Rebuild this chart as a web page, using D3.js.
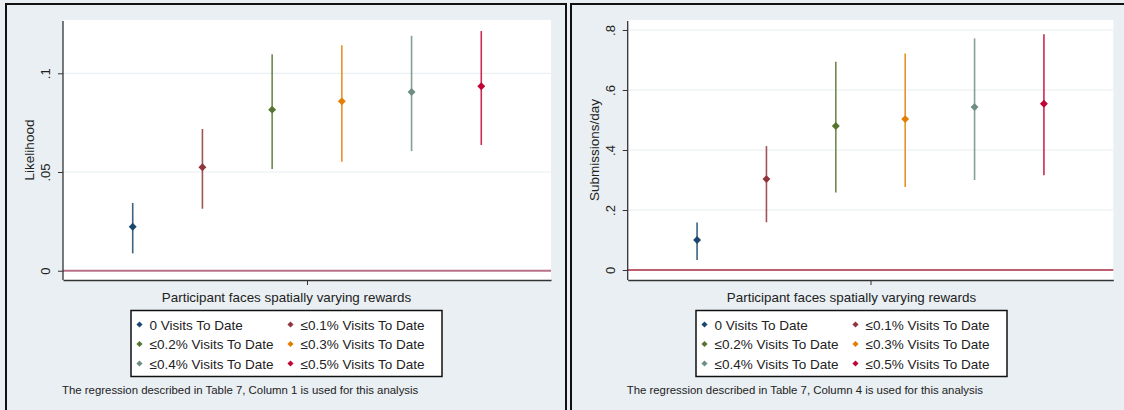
<!DOCTYPE html>
<html><head><meta charset="utf-8">
<script src="https://cdn.jsdelivr.net/npm/d3@7"></script>
<style>
html,body{margin:0;padding:0;background:#fff;}
svg{display:block;font-family:"Liberation Sans",Arial,sans-serif;}
</style></head>
<body>
<svg id="chart" width="1124" height="410"></svg>
<script>
// ---- data ----
const categories = ["0 Visits To Date", "≤0.1% Visits To Date", "≤0.2% Visits To Date",
                    "≤0.3% Visits To Date", "≤0.4% Visits To Date", "≤0.5% Visits To Date"];
const seriesColors = ["#1a476f", "#90353b", "#55752f", "#e37e00", "#6e8e84", "#c10534"];

const likelihoodEst = [0.0223, 0.0524, 0.0816, 0.0858, 0.0905, 0.0934];
const likelihoodLo  = [0.0088, 0.0314, 0.0515, 0.0552, 0.0606, 0.0637];
const likelihoodHi  = [0.0343, 0.0718, 0.1096, 0.1142, 0.1190, 0.1214];
const likelihoodTicks = [0, 0.05, 0.1];
const likelihoodTickLabels = ["0", ".05", ".1"];

const submissionsEst = [0.100, 0.303, 0.480, 0.503, 0.543, 0.554];
const submissionsLo  = [0.033, 0.159, 0.258, 0.277, 0.300, 0.316];
const submissionsHi  = [0.158, 0.413, 0.694, 0.722, 0.772, 0.786];
const submissionsTicks = [0, 0.2, 0.4, 0.6, 0.8];
const submissionsTickLabels = ["0", ".2", ".4", ".6", ".8"];

const xTitle = "Participant faces spatially varying rewards";

const panels = [
  {yTitle: "Likelihood", est: likelihoodEst, lo: likelihoodLo, hi: likelihoodHi,
   ticks: likelihoodTicks, tickLabels: likelihoodTickLabels, yDomain: [-0.0047, 0.127],
   note: "The regression described in Table 7, Column 1 is used for this analysis",
   box: [6, 4, 560, 420], plot: [63, 20, 551, 280], zeroColor: "#b8708a", zeroW: 2},
  {yTitle: "Submissions/day", est: submissionsEst, lo: submissionsLo, hi: submissionsHi,
   ticks: submissionsTicks, tickLabels: submissionsTickLabels, yDomain: [-0.0333, 0.8333],
   note: "The regression described in Table 7, Column 4 is used for this analysis",
   box: [571, 4, 560, 420], plot: [627.7, 20, 1113.3, 280], zeroColor: "#a8283f", zeroW: 1.3}
];

const svg = d3.select("#chart");
svg.append("rect").attr("width", 1124).attr("height", 410).attr("fill", "#e9eff2");

panels.forEach(p => {
  const [bx, by, bw, bh] = p.box;
  const [x0, y0, x1, y1] = p.plot;
  const g = svg.append("g");
  g.append("rect").attr("x", bx).attr("y", by).attr("width", bw).attr("height", bh)
    .attr("fill", "#e9eff2").attr("stroke", "#111").attr("stroke-width", 2);
  g.append("rect").attr("x", x0).attr("y", y0).attr("width", x1 - x0).attr("height", y1 - y0)
    .attr("fill", "#fff");

  const x = d3.scaleLinear().domain([0, categories.length + 1]).range([x0, x1]);
  const y = d3.scaleLinear().domain(p.yDomain).range([y1, y0]);

  // gridlines
  g.selectAll(".grid").data(p.ticks.filter(t => t !== 0)).join("line")
    .attr("x1", x0).attr("x2", x1).attr("y1", d => y(d)).attr("y2", d => y(d))
    .attr("stroke", "#eaeff2").attr("stroke-width", 1.2);

  // zero line
  g.append("line").attr("x1", x0).attr("x2", x1).attr("y1", y(0)).attr("y2", y(0))
    .attr("stroke", p.zeroColor).attr("stroke-width", p.zeroW);

  // y axis
  const yAxis = d3.axisLeft(y).tickValues(p.ticks).tickFormat((d, i) => p.tickLabels[i])
    .tickSize(5).tickSizeOuter(0);
  const ya = g.append("g").attr("transform", `translate(${x0},0)`).call(yAxis);
  ya.select(".domain").attr("stroke", "#333").attr("stroke-width", 1.3)
    .attr("d", `M0,${y1}V${y0 + 1}`);
  ya.selectAll(".tick line").attr("stroke", "#333");
  ya.selectAll(".tick text").attr("font-size", 13).attr("fill", "#222")
    .attr("font-family", "Liberation Sans, Arial, sans-serif")
    .attr("transform", "rotate(-90)").attr("text-anchor", "middle")
    .attr("x", 0).attr("y", -13).attr("dy", 0);

  // x axis
  const xAxis = d3.axisBottom(x).tickValues([(categories.length + 1) / 2]).tickFormat("")
    .tickSize(5).tickSizeOuter(0);
  const xa = g.append("g").attr("transform", `translate(0,${y1})`).call(xAxis);
  xa.select(".domain").attr("stroke", "#333").attr("stroke-width", 1.3);
  xa.selectAll(".tick line").attr("stroke", "#333");

  // y title
  g.append("text").attr("transform", `translate(${x0 - 29},150) rotate(-90)`)
    .attr("text-anchor", "middle").attr("font-size", 13.5).attr("fill", "#222").text(p.yTitle);

  // CI lines and markers
  const data = categories.map((c, i) => ({i, est: p.est[i], lo: p.lo[i], hi: p.hi[i], color: seriesColors[i]}));
  g.selectAll(".ci").data(data).join("line")
    .attr("x1", d => x(d.i + 1)).attr("x2", d => x(d.i + 1))
    .attr("y1", d => y(d.lo)).attr("y2", d => y(d.hi))
    .attr("stroke", d => d.color).attr("stroke-width", 1.6).attr("stroke-opacity", 0.85);
  const diamond = d3.symbol().type(d3.symbolDiamond2).size(40);
  g.selectAll(".pt").data(data).join("path")
    .attr("d", diamond).attr("transform", d => `translate(${x(d.i + 1)},${y(d.est)})`)
    .attr("fill", d => d.color);

  // x title
  const cx = bx + 280.5;
  g.append("text").attr("x", cx).attr("y", 302).attr("text-anchor", "middle")
    .attr("font-size", 13.4).attr("fill", "#222").text(xTitle);

  // legend
  const lw = 311, lh = 66;
  const lg = g.append("g").attr("transform", `translate(${cx - lw / 2},310.5)`);
  lg.append("rect").attr("width", lw).attr("height", lh).attr("fill", "#fff")
    .attr("stroke", "#111").attr("stroke-width", 1.5);
  const legSym = d3.symbol().type(d3.symbolDiamond2).size(24);
  categories.forEach((c, i) => {
    const col = i % 2, row = Math.floor(i / 2);
    const mx = col === 0 ? 8.5 : 159.5;
    const my = 14 + row * 19.5;
    lg.append("path").attr("d", legSym).attr("transform", `translate(${mx},${my})`)
      .attr("fill", seriesColors[i]);
    lg.append("text").attr("x", mx + 10).attr("y", my + 5).attr("font-size", 13.5)
      .attr("fill", "#222").text(c);
  });

  // note
  g.append("text").attr("x", x0 - 1).attr("y", 394).attr("font-size", 11.4)
    .attr("fill", "#222").text(p.note);
});
</script>
</body></html>
